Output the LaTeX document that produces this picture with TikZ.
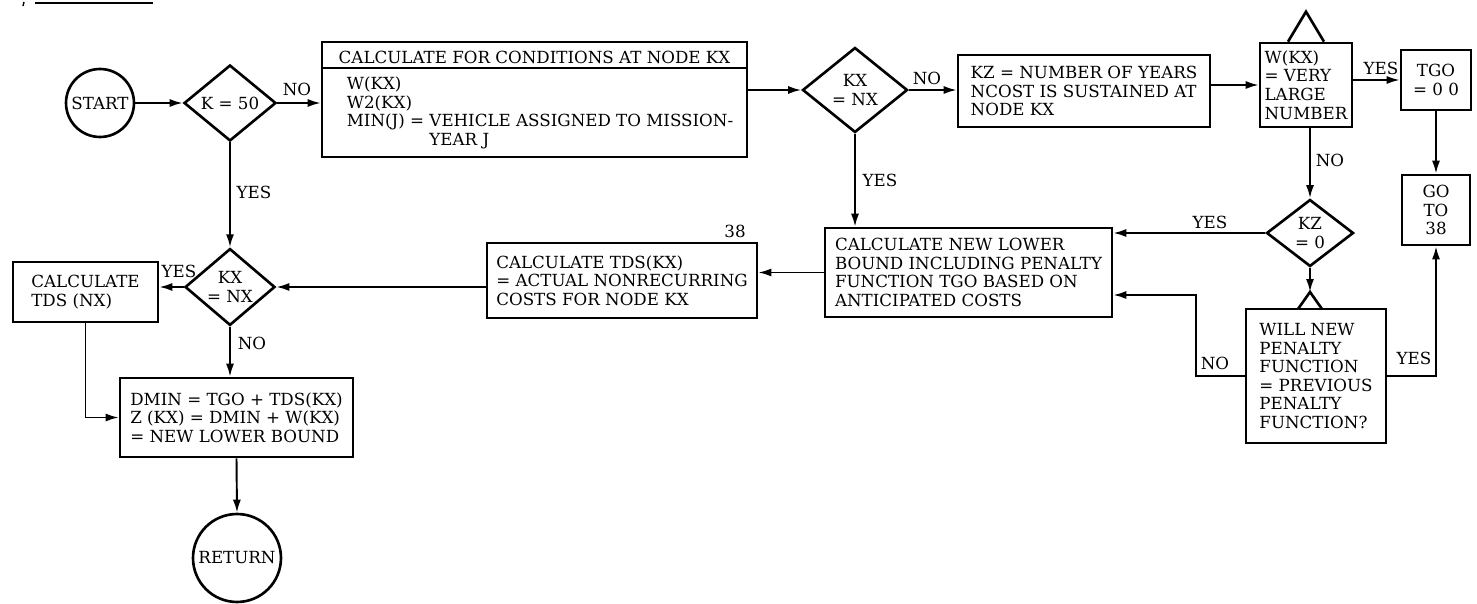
\documentclass[tikz,border=0pt]{standalone}
\usepackage{fontspec}
\setmainfont{DejaVu Serif}
\usetikzlibrary{shapes.geometric,arrows.meta}

\begin{document}
\begin{tikzpicture}[x=0.02cm, y=-0.02cm,
    txt/.style={font=\fontsize{9.5}{10.6}\selectfont, inner sep=0pt},
    box/.style={txt, draw, line width=1.5pt, rectangle, align=left},
    decision/.style={txt, draw, line width=1.5pt, diamond, align=center},
    terminal/.style={txt, draw, line width=1.5pt, circle},
    arr/.style={line width=1.1pt, -{Latex[length=2.6mm,width=1.6mm]}},
    lbl/.style={txt}]
    \useasboundingbox (0,0) rectangle (1477,604);

    % scan mark at the top
    \draw[line width=0.9pt] (35,3) -- (153,3);
    \draw[line width=0.8pt] (24,2) -- (23,6);

    % top row
    \node[terminal, minimum size=1.36cm] (start) at (100,103) {START};
    \node[decision, minimum width=1.84cm, minimum height=1.52cm] (k50) at (230,103) {K = 50};
    \node[box, minimum width=8.5cm, minimum height=2.3cm] (calc) at (534.5,99.5) {};
    \node[txt] (calchead) at (534.5,57) {CALCULATE FOR CONDITIONS AT NODE KX};
    \draw[line width=1.5pt] (calc.west |- 0,68) -- (calc.east |- 0,68);
    \node[txt, align=left] (calcitems) at (540,113) {W(KX)\\W2(KX)\\MIN(J) = VEHICLE ASSIGNED TO MISSION-\\\hphantom{MIN(J) = }YEAR J};
    \node[decision, minimum width=2.1cm, minimum height=1.7cm] (kxnx1) at (855,90) {KX\\= NX};
    \node[box, minimum width=5.04cm, minimum height=1.44cm] (kz) at (1084,91) {KZ = NUMBER OF YEARS\\NCOST IS SUSTAINED AT\\NODE KX};
    \node[box, minimum width=1.84cm, minimum height=1.68cm] (wkx) at (1306,85) {W(KX)\\= VERY\\LARGE\\NUMBER};
    \node[box, align=center, minimum width=1.4cm, minimum height=1.2cm] (tgo) at (1436,80) {TGO\\= 0 0};

    % right column
    \node[box, align=center, minimum width=1.36cm, minimum height=1.4cm] (goto) at (1436,210) {GO\\TO\\38};
    \node[decision, minimum width=1.74cm, minimum height=1.34cm] (kz0) at (1310,233) {KZ\\= 0};
    \node[box, minimum width=2.8cm, minimum height=2.68cm] (will) at (1316,376) {WILL NEW\\PENALTY\\FUNCTION\\= PREVIOUS\\PENALTY\\FUNCTION?};
    \coordinate (willtop) at (1310,292);

    % middle row
    \node[box, minimum width=5.74cm, minimum height=1.78cm] (newlb) at (968.5,272.5) {CALCULATE NEW LOWER\\BOUND INCLUDING PENALTY\\FUNCTION TGO BASED ON\\ANTICIPATED COSTS};
    \node[box, minimum width=5.4cm, minimum height=1.5cm] (tdskx) at (622,280.5) {CALCULATE TDS(KX)\\= ACTUAL NONRECURRING\\COSTS FOR NODE KX};
    \node[decision, minimum width=1.8cm, minimum height=1.4cm] (kxnx2) at (230,287) {KX\\= NX};
    \node[box, minimum width=2.9cm, minimum height=1.2cm] (tdsnx) at (85.5,292) {CALCULATE\\TDS (NX)};

    % bottom
    \node[box, minimum width=4.66cm, minimum height=1.58cm] (dmin) at (236.5,417.5) {DMIN = TGO + TDS(KX)\\Z (KX) = DMIN + W(KX)\\= NEW LOWER BOUND};
    \node[terminal, minimum size=1.76cm] (return) at (237,558) {RETURN};

    % connector triangles
    \draw[line width=1.5pt] ([xshift=-0.36cm]wkx.north) -- ([yshift=0.6cm]wkx.north) -- ([xshift=0.36cm]wkx.north);
    \draw[line width=1.5pt] (1298,309) -- (willtop) -- (1322,309);

    % flow lines
    \draw[arr] (start.east) -- (k50.west);
    \draw[arr] (k50.east) -- (k50.east -| calc.west);
    \draw[arr] (k50.south) -- (kxnx2.north);
    \draw[arr] (calc.east |- kxnx1.west) -- (kxnx1.west);
    \draw[arr] (kxnx1.east) -- (kxnx1.east -| kz.west);
    \draw[arr] (kxnx1.south) -- (kxnx1.south |- newlb.north);
    \draw[arr] (kz.east |- wkx.west) -- (wkx.west);
    \draw[arr] (wkx.east |- tgo.west) -- (tgo.west);
    \draw[arr] (tgo.south) -- (goto.north);
    \draw[arr] (wkx.south -| kz0.north) -- (kz0.north);
    \draw[arr] (kz0.west) -- (kz0.west -| newlb.east);
    \draw[arr] (kz0.south) -- (willtop);
    \draw[arr] (will.west) -- (1196,376) |- ([yshift=-0.45cm]newlb.east);
    \draw[arr] (will.east) -| (goto.south);
    \draw[arr] (newlb.west) -- (newlb.west -| tdskx.east);
    \draw[arr] (tdskx.west |- kxnx2.east) -- (kxnx2.east);
    \draw[arr] (kxnx2.west) -- (kxnx2.west -| tdsnx.east);
    \draw[arr] (kxnx2.south) -- (kxnx2.south |- dmin.north);
    \draw[arr] (tdsnx.south) |- (dmin.west);
    \draw[arr] (dmin.south) -- (return.north);

    % branch labels
    \node[lbl] (lno1) at (297,89) {NO};
    \node[lbl] (lyes1) at (254,192) {YES};
    \node[lbl] (lno2) at (927,78) {NO};
    \node[lbl] (lyes2) at (880,180) {YES};
    \node[lbl] (lyes3) at (1381,68) {YES};
    \node[lbl] (lno3) at (1330,160) {NO};
    \node[lbl] (lyes4) at (1210,222) {YES};
    \node[lbl] (lno4) at (1215,363) {NO};
    \node[lbl] (lyes5) at (1414,358) {YES};
    \node[lbl] (lyes6) at (179,271) {YES};
    \node[lbl] (lno5) at (252,343) {NO};
    \node[lbl] (l38) at (735,231) {38};
\end{tikzpicture}
\end{document}
